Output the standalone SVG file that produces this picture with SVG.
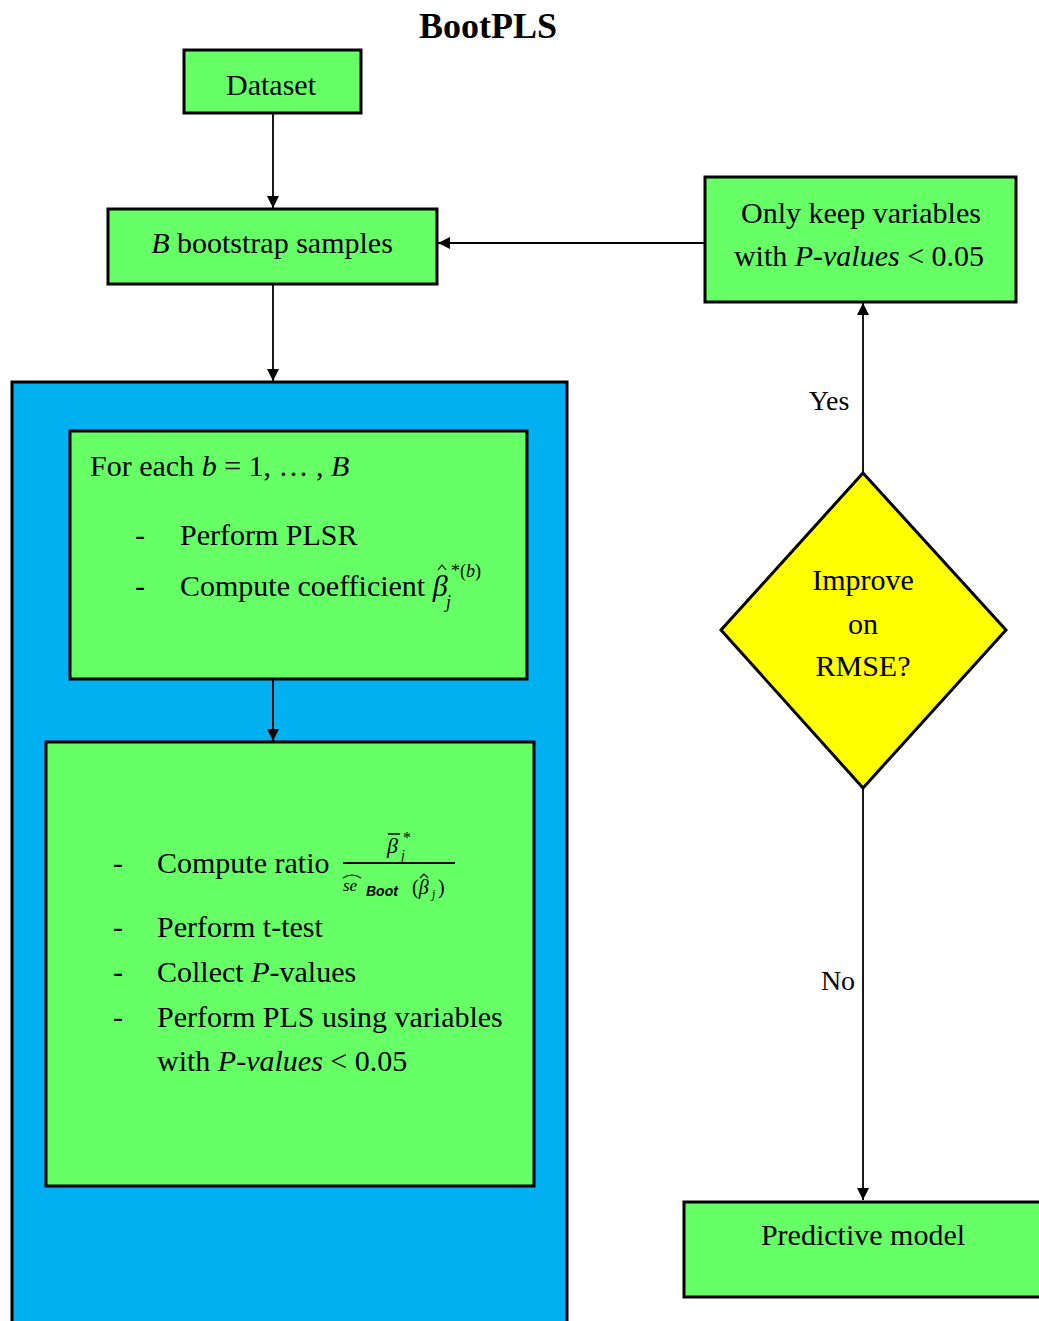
<svg xmlns="http://www.w3.org/2000/svg" width="1039" height="1321" viewBox="0 0 1039 1321">
<defs>
<marker id="ah" viewBox="0 0 12 12" refX="12" refY="6" markerWidth="12" markerHeight="12" markerUnits="userSpaceOnUse" orient="auto">
<path d="M0,0 L12,6 L0,12 Z" fill="#000"/>
</marker>
</defs>
<style>
.box{fill:#66FF66;stroke:#000;stroke-width:3}
.t{font-family:"Liberation Serif",serif;font-size:30px;fill:#000}
.c{text-anchor:middle}
.i{font-style:italic}
.s{font-size:18px}
.ln{stroke:#000;stroke-width:1.8;fill:none}
.acc{stroke:#000;stroke-width:1.2;fill:none}
</style>
<rect width="1039" height="1321" fill="#fff"/>
<text x="488" y="38" class="t c" style="font-weight:bold;font-size:36px">BootPLS</text>

<g id="container">
<rect x="12" y="382" width="555" height="960" fill="#00B0F0" stroke="#000" stroke-width="3"/>
</g>

<g id="connectors">
<line x1="273" y1="113" x2="273" y2="208" class="ln" marker-end="url(#ah)"/>
<line x1="273" y1="284" x2="273" y2="381" class="ln" marker-end="url(#ah)"/>
<line x1="273" y1="679" x2="273" y2="741" class="ln" marker-end="url(#ah)"/>
<line x1="705" y1="243" x2="438" y2="243" class="ln" marker-end="url(#ah)"/>
<line x1="863" y1="473" x2="863" y2="303" class="ln" marker-end="url(#ah)"/>
<line x1="863" y1="788" x2="863" y2="1200" class="ln" marker-end="url(#ah)"/>
<text x="829" y="410" class="t c" style="font-size:28px">Yes</text>
<text x="838" y="990" class="t c" style="font-size:28px">No</text>
</g>

<g id="dataset">
<rect x="184" y="50" width="177" height="63" class="box"/>
<text x="271" y="95" class="t c">Dataset</text>
</g>

<g id="bootstrap">
<rect x="108" y="209" width="329" height="75" class="box"/>
<text x="272" y="253" class="t c"><tspan class="i">B</tspan> bootstrap samples</text>
</g>

<g id="keep">
<rect x="705" y="177" width="311" height="125" class="box"/>
<text x="861" y="223" class="t c">Only keep variables</text>
<text x="859" y="266" class="t c">with <tspan class="i">P-values</tspan> &lt; 0.05</text>
</g>

<g id="foreach">
<rect x="70" y="431" width="457" height="248" class="box"/>
<text x="90" y="476" class="t">For each <tspan class="i">b</tspan> = 1, … , <tspan class="i">B</tspan></text>
<text x="135" y="545" class="t">-</text>
<text x="180" y="545" class="t">Perform PLSR</text>
<text x="135" y="596" class="t">-</text>
<text x="180" y="596" class="t">Compute coefficient <tspan class="i">β</tspan></text>
<polyline points="438,570 442,565 446,570" class="acc"/>
<text x="446" y="608" class="t i s">j</text>
<text x="451" y="577" class="t s"><tspan>*(</tspan><tspan class="i">b</tspan><tspan>)</tspan></text>
</g>

<g id="ratio">
<rect x="46" y="742" width="488" height="444" class="box"/>
<text x="113" y="873" class="t">-</text>
<text x="157" y="873" class="t">Compute ratio</text>
<text x="387" y="853" class="t i" style="font-size:22px">β</text>
<line x1="388" y1="834" x2="400" y2="834" stroke="#000" stroke-width="1.5"/>
<text x="403" y="843" class="t" style="font-size:16px">*</text>
<text x="401" y="860" class="t i" style="font-size:14px">j</text>
<line x1="343" y1="863" x2="455" y2="863" stroke="#000" stroke-width="1.8"/>
<text x="343" y="891" class="t i" style="font-size:17px">se</text>
<path d="M343,878 Q352,872 361,878" class="acc"/>
<text x="366" y="896" style="font-family:'Liberation Sans',sans-serif;font-style:italic;font-weight:bold;font-size:14px">Boot</text>
<text x="412" y="894" class="t" style="font-size:20px">(<tspan class="i">β</tspan></text>
<polyline points="420,878 424,874 428,878" class="acc"/>
<text x="432" y="898" class="t i" style="font-size:12px">j</text>
<text x="438" y="894" class="t" style="font-size:20px">)</text>
<text x="113" y="937" class="t">-</text>
<text x="157" y="937" class="t">Perform t-test</text>
<text x="113" y="982" class="t">-</text>
<text x="157" y="982" class="t">Collect <tspan class="i">P</tspan>-values</text>
<text x="113" y="1027" class="t">-</text>
<text x="157" y="1027" class="t">Perform PLS using variables</text>
<text x="157" y="1071" class="t">with <tspan class="i">P-values</tspan> &lt; 0.05</text>
</g>

<g id="decision">
<polygon points="863,473 1006,630 863,788 721,630" fill="#FFFF00" stroke="#000" stroke-width="3"/>
<text x="863" y="590" class="t c">Improve</text>
<text x="863" y="634" class="t c">on</text>
<text x="863" y="676" class="t c">RMSE?</text>
</g>

<g id="predictive">
<rect x="684" y="1202" width="370" height="95" class="box"/>
<text x="863" y="1245" class="t c">Predictive model</text>
</g>
</svg>
